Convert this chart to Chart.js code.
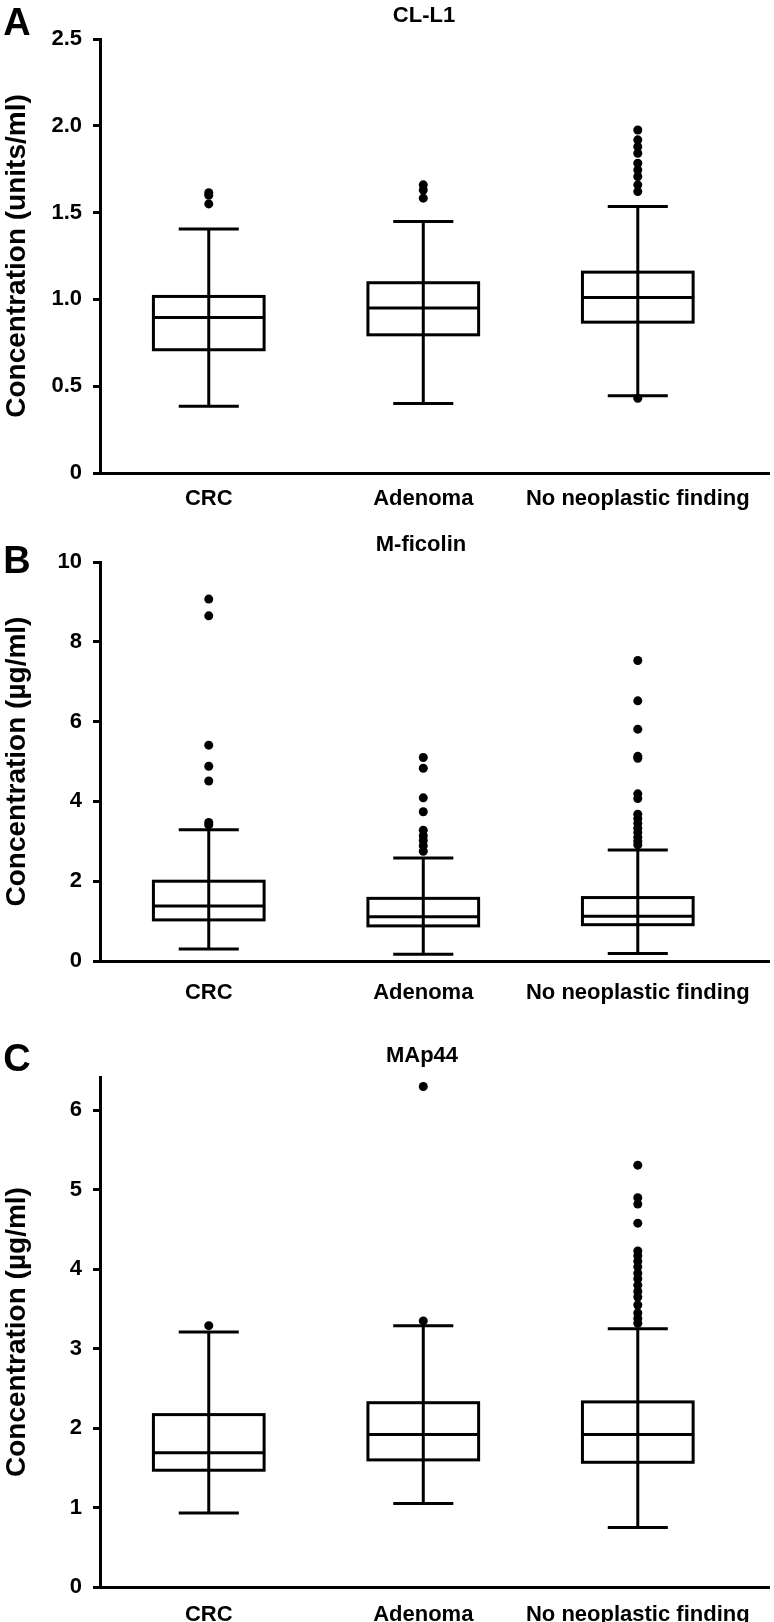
<!DOCTYPE html>
<html>
<head>
<meta charset="utf-8">
<script src="https://cdn.jsdelivr.net/npm/chart.js@4.4.1/dist/chart.umd.min.js"></script>
<style>
  body { margin: 0; background: #fff; }
  #page { position: relative; width: 774px; height: 1622px; overflow: hidden; font-family: "Liberation Sans", Arial, sans-serif; font-weight: bold; color: #000; }
  .panel { position: absolute; left: 0; width: 774px; }
  .txt { position: absolute; transform: translate(-50%, -50%); white-space: nowrap; line-height: 1; }
  .letter { font-size: 38px; }
  .title { font-size: 22px; }
</style>
</head>
<body>
<div id="page">
  <div class="panel" style="top:0;height:530px"><canvas id="chartA" width="774" height="530"></canvas></div>
  <div class="panel" style="top:510px;height:508px"><canvas id="chartB" width="774" height="508"></canvas></div>
  <div class="panel" style="top:998px;height:640px"><canvas id="chartC" width="774" height="640"></canvas></div>
  <div class="txt letter" style="left:17px;top:22px">A</div>
  <div class="txt title" style="left:424px;top:15px">CL-L1</div>
  <div class="txt letter" style="left:17px;top:560px">B</div>
  <div class="txt title" style="left:421px;top:544px">M-ficolin</div>
  <div class="txt letter" style="left:17px;top:1058px">C</div>
  <div class="txt title" style="left:422px;top:1055px">MAp44</div>
</div>
<script>
const groups = ["CRC", "Adenoma", "No neoplastic finding"];
const groupPos = [0, 1, 2];

//CL-L1 (units/ml)
const cllLow = [0.385, 0.40, 0.445];
const cllQ1 = [0.71, 0.796, 0.869];
const cllMedian = [0.896, 0.95, 1.011];
const cllQ3 = [1.017, 1.096, 1.157];
const cllHigh = [1.406, 1.449, 1.535];
const cllOutliers = [
  [1.615, 1.60, 1.55],
  [1.66, 1.63, 1.583],
  [1.976, 1.919, 1.88, 1.842, 1.784, 1.746, 1.708, 1.66, 1.621, 0.43],
];
const cllTicks = [0, 0.5, 1.0, 1.5, 2.0, 2.5];
const cllTickLabels = ["0", "0.5", "1.0", "1.5", "2.0", "2.5"];

//M-ficolin (µg/ml)
const mfLow = [0.3, 0.17, 0.19];
const mfQ1 = [1.03, 0.88, 0.91];
const mfMedian = [1.38, 1.11, 1.12];
const mfQ3 = [2.0, 1.57, 1.59];
const mfHigh = [3.29, 2.58, 2.78];
const mfOutliers = [
  [9.07, 8.65, 5.41, 4.88, 4.51, 3.47, 3.41],
  [5.10, 4.83, 4.09, 3.74, 3.28, 3.14, 3.02, 2.89, 2.75],
  [7.53, 6.52, 5.81, 5.13, 5.08, 4.19, 4.07, 3.68, 3.57, 3.45, 3.33, 3.22, 3.10, 3.0, 2.91],
];
const mfTicks = [0, 2, 4, 6, 8, 10];
const mfTickLabels = ["0", "2", "4", "6", "8", "10"];

//MAp44 (µg/ml)
const mapLow = [0.93, 1.05, 0.75];
const mapQ1 = [1.47, 1.60, 1.57];
const mapMedian = [1.69, 1.92, 1.92];
const mapQ3 = [2.17, 2.32, 2.33];
const mapHigh = [3.21, 3.29, 3.25];
const mapOutliers = [
  [3.29],
  [6.3, 3.35],
  [5.31, 4.90, 4.82, 4.58, 4.23, 4.17, 4.10, 4.03, 3.95, 3.88, 3.80, 3.72, 3.65, 3.55, 3.45, 3.38, 3.32],
];
const mapTicks = [0, 1, 2, 3, 4, 5, 6];
const mapTickLabels = ["0", "1", "2", "3", "4", "5", "6"];

Chart.defaults.font.family = '"Liberation Sans", Arial, sans-serif';
Chart.defaults.font.weight = "bold";
Chart.defaults.color = "#000";

//draws boxes, medians and whiskers with the chart scales
const boxPlugin = (stats) => ({
  id: "boxes",
  beforeDatasetsDraw(chart) {
    const { ctx, scales: { x, y } } = chart;
    ctx.save();
    ctx.strokeStyle = "#000";
    ctx.lineWidth = 3;
    groupPos.forEach((g, i) => {
      const cx = x.getPixelForValue(g);
      const bl = x.getPixelForValue(g - 0.258);
      const br = x.getPixelForValue(g + 0.258);
      const cl = x.getPixelForValue(g - 0.14);
      const cr = x.getPixelForValue(g + 0.14);
      const yLow = y.getPixelForValue(stats.low[i]);
      const yHigh = y.getPixelForValue(stats.high[i]);
      const yQ1 = y.getPixelForValue(stats.q1[i]);
      const yQ3 = y.getPixelForValue(stats.q3[i]);
      const yMed = y.getPixelForValue(stats.median[i]);
      ctx.beginPath();
      ctx.moveTo(cx, yLow);
      ctx.lineTo(cx, yHigh);
      ctx.moveTo(cl, yLow);
      ctx.lineTo(cr, yLow);
      ctx.moveTo(cl, yHigh);
      ctx.lineTo(cr, yHigh);
      ctx.moveTo(bl, yMed);
      ctx.lineTo(br + 1, yMed);
      ctx.stroke();
      ctx.strokeRect(bl, yQ3, br - bl, yQ1 - yQ3);
    });
    ctx.restore();
  },
});

function makePanel(id, p) {
  const points = [];
  p.outliers.forEach((list, i) => list.forEach((v) => points.push({ x: groupPos[i], y: v })));
  return new Chart(document.getElementById(id), {
    type: "scatter",
    data: {
      datasets: [{
        data: points,
        backgroundColor: "#000",
        borderWidth: 0,
        pointRadius: 4.5,
        pointHoverRadius: 4.5,
      }],
    },
    options: {
      responsive: false,
      animation: false,
      events: [],
      layout: { padding: { top: p.padTop, right: 3, left: 0, bottom: 0 } },
      plugins: { legend: { display: false }, tooltip: { enabled: false } },
      scales: {
        x: {
          type: "linear",
          min: -0.507,
          max: 2.614,
          afterFit: (s) => { s.height = p.xHeight; },
          afterBuildTicks: (s) => { s.ticks = groupPos.map((v) => ({ value: v })); },
          grid: { display: false },
          border: { color: "#000", width: 3 },
          ticks: {
            padding: p.xPad,
            color: "#000",
            font: { size: 22, weight: "bold" },
            maxRotation: 0,
            autoSkip: false,
            callback: (v) => groups[v],
          },
        },
        y: {
          min: 0,
          max: p.yMax,
          afterFit: (s) => { s.width = 100; },
          afterBuildTicks: (s) => { s.ticks = p.ticks.map((v) => ({ value: v })); },
          grid: { drawOnChartArea: false, drawTicks: true, tickLength: 7, tickWidth: 3, tickColor: "#000" },
          border: { color: "#000", width: 3 },
          ticks: {
            padding: 11,
            color: "#000",
            font: { size: 22, weight: "bold" },
            callback: (v, i) => p.tickLabels[i],
          },
          title: {
            display: true,
            text: p.yTitle,
            color: "#000",
            font: { size: 28, weight: "bold" },
            padding: 0,
          },
        },
      },
    },
    plugins: [boxPlugin(p.stats)],
  });
}

makePanel("chartA", {
  stats: { low: cllLow, q1: cllQ1, median: cllMedian, q3: cllQ3, high: cllHigh },
  outliers: cllOutliers,
  ticks: cllTicks,
  tickLabels: cllTickLabels,
  yMax: 2.5,
  yTitle: "Concentration (units/ml)",
  padTop: 39,
  xHeight: 57,
  xPad: 5,
});

makePanel("chartB", {
  stats: { low: mfLow, q1: mfQ1, median: mfMedian, q3: mfQ3, high: mfHigh },
  outliers: mfOutliers,
  ticks: mfTicks,
  tickLabels: mfTickLabels,
  yMax: 10,
  yTitle: "Concentration (µg/ml)",
  padTop: 52,
  xHeight: 57,
  xPad: 11,
});

makePanel("chartC", {
  stats: { low: mapLow, q1: mapQ1, median: mapMedian, q3: mapQ3, high: mapHigh },
  outliers: mapOutliers,
  ticks: mapTicks,
  tickLabels: mapTickLabels,
  yMax: 6.42,
  yTitle: "Concentration (µg/ml)",
  padTop: 79,
  xHeight: 51,
  xPad: 7,
});
</script>
</body>
</html>
